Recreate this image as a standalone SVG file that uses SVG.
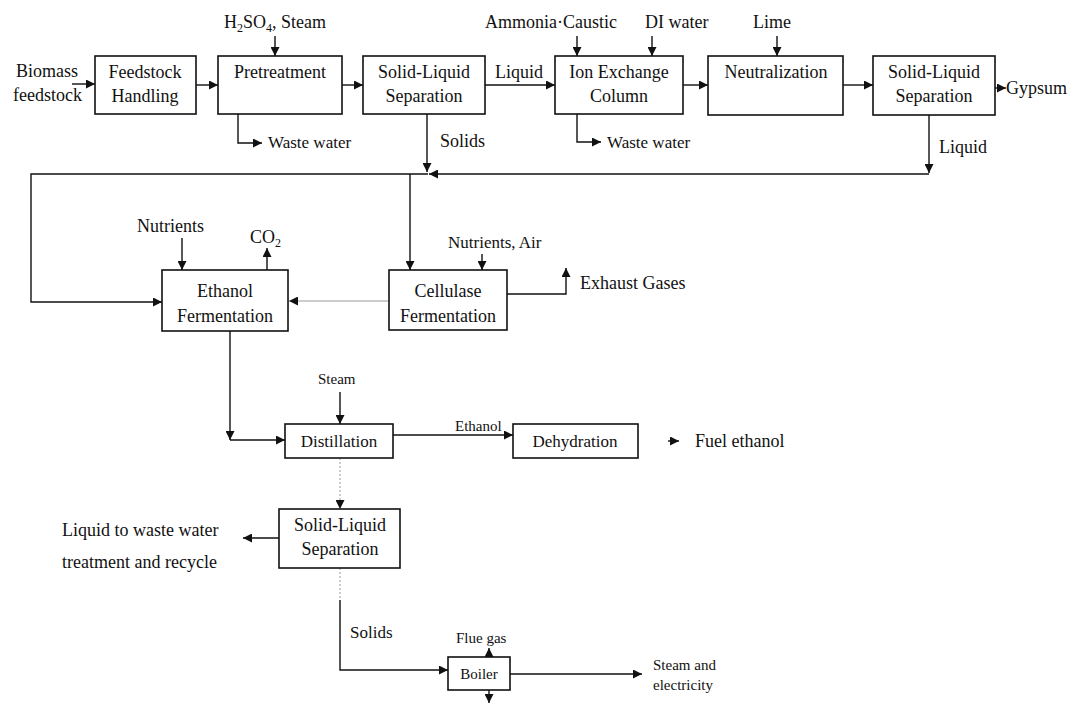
<svg xmlns="http://www.w3.org/2000/svg" width="1079" height="704" viewBox="0 0 1079 704">
<style>
text{font-family:"Liberation Serif","Times New Roman",serif;font-size:18px;fill:#111}
.md{font-size:17px}
.sm{font-size:15px}
.c{text-anchor:middle}
.box{fill:#fff;stroke:#111;stroke-width:1.6}
.ln{fill:none;stroke:#111;stroke-width:1.4}
.fa{fill:none;stroke:#999;stroke-width:1.2}
.dt{fill:none;stroke:#aaa;stroke-width:1.2;stroke-dasharray:2 2}
</style>
<defs>
<marker id="ah" viewBox="0 0 10 10" refX="10" refY="5" markerWidth="11" markerHeight="9" markerUnits="userSpaceOnUse" orient="auto"><path d="M0,0 L10,5 L0,10 z" fill="#111"/></marker>
</defs>
<rect width="1079" height="704" fill="#fff"/>

<g id="connectors">
<path class="ln" d="M72,84 H95" marker-end="url(#ah)"/>
<path class="ln" d="M196,85 H218" marker-end="url(#ah)"/>
<path class="ln" d="M275,36 V56" marker-end="url(#ah)"/>
<path class="ln" d="M342,85 H363" marker-end="url(#ah)"/>
<path class="ln" d="M238,113 V143 H262" marker-end="url(#ah)"/>
<path class="ln" d="M485,85 H555" marker-end="url(#ah)"/>
<path class="ln" d="M577,36 V56" marker-end="url(#ah)"/>
<path class="ln" d="M652,36 V56" marker-end="url(#ah)"/>
<path class="ln" d="M577,113 V142 H601" marker-end="url(#ah)"/>
<path class="ln" d="M683,85 H708" marker-end="url(#ah)"/>
<path class="ln" d="M777,36 V56" marker-end="url(#ah)"/>
<path class="ln" d="M843,85 H873" marker-end="url(#ah)"/>
<path class="ln" d="M995,88 H1006" marker-end="url(#ah)"/>
<path class="ln" d="M929,115 V173" marker-end="url(#ah)"/>
<path class="ln" d="M427,113 V172" marker-end="url(#ah)"/>
<path class="ln" d="M929,174 H429" marker-end="url(#ah)"/>
<path class="ln" d="M428,174 H31 V302 H162" marker-end="url(#ah)"/>
<path class="ln" d="M410,174 V270" marker-end="url(#ah)"/>
<path class="ln" d="M182,238 V270" marker-end="url(#ah)"/>
<path class="ln" d="M267,270 V248" marker-end="url(#ah)"/>
<path class="ln" d="M482,254 V270" marker-end="url(#ah)"/>
<path class="fa" d="M389,301 H289" marker-end="url(#ah)"/>
<path class="ln" d="M507,294 H566 V268" marker-end="url(#ah)"/>
<path class="ln" d="M230,331 V440" marker-end="url(#ah)"/>
<path class="ln" d="M230,440 H285" marker-end="url(#ah)"/>
<path class="ln" d="M340,392 V424" marker-end="url(#ah)"/>
<path class="ln" d="M393,435 H513" marker-end="url(#ah)"/>
<path class="ln" d="M668,441 H679" marker-end="url(#ah)"/>
<path class="dt" d="M340,458 V509" marker-end="url(#ah)"/>
<path class="ln" d="M279,538 H243" marker-end="url(#ah)"/>
<path class="dt" d="M340,568 V600"/>
<path class="ln" d="M340,600 V670 H448" marker-end="url(#ah)"/>
<path class="ln" d="M489,657 V648" marker-end="url(#ah)"/>
<path class="ln" d="M489,690 V703" marker-end="url(#ah)"/>
<path class="ln" d="M510,674 H642" marker-end="url(#ah)"/>
</g>

<g id="labels">
<text x="16" y="77">Biomass</text>
<text x="13" y="101">feedstock</text>
<text x="224" y="28">H<tspan font-size="12" dy="4">2</tspan><tspan dy="-4">SO</tspan><tspan font-size="12" dy="4">4</tspan><tspan dy="-4">, Steam</tspan></text>
<text x="268" y="148" class="md">Waste water</text>
<text x="495" y="78">Liquid</text>
<text x="485" y="28">Ammonia·Caustic</text>
<text x="645" y="28">DI water</text>
<text x="607" y="148" class="md">Waste water</text>
<text x="753" y="28">Lime</text>
<text x="1006" y="94">Gypsum</text>
<text x="440" y="147">Solids</text>
<text x="939" y="153">Liquid</text>
<text x="137" y="232">Nutrients</text>
<text x="250" y="243">CO<tspan font-size="12" dy="4">2</tspan></text>
<text x="448" y="248" class="md">Nutrients, Air</text>
<text x="580" y="289">Exhaust Gases</text>
<text x="318" y="384" class="sm">Steam</text>
<text x="455" y="431" class="sm">Ethanol</text>
<text x="695" y="447">Fuel ethanol</text>
<text x="62" y="536">Liquid to waste water</text>
<text x="62" y="568">treatment and recycle</text>
<text x="350" y="638" class="md">Solids</text>
<text x="456" y="643" class="sm">Flue gas</text>
<text x="653" y="670" class="sm">Steam and</text>
<text x="653" y="690" class="sm">electricity</text>
</g>

<g id="feedstock-handling"><rect class="box" x="95" y="56" width="101" height="58"/><text class="c" x="145" y="78">Feedstock</text><text class="c" x="145" y="102">Handling</text></g>
<g id="pretreatment"><rect class="box" x="218" y="56" width="124" height="58"/><text class="c" x="280" y="78">Pretreatment</text></g>
<g id="sls1"><rect class="box" x="363" y="56" width="122" height="58"/><text class="c" x="424" y="78">Solid-Liquid</text><text class="c" x="424" y="102">Separation</text></g>
<g id="ion-exchange"><rect class="box" x="555" y="56" width="128" height="58"/><text class="c" x="619" y="78">Ion Exchange</text><text class="c" x="619" y="102">Column</text></g>
<g id="neutralization"><rect class="box" x="708" y="56" width="135" height="59"/><text class="c" x="776" y="78">Neutralization</text></g>
<g id="sls2"><rect class="box" x="873" y="56" width="122" height="59"/><text class="c" x="934" y="78">Solid-Liquid</text><text class="c" x="934" y="102">Separation</text></g>
<g id="ethanol-fermentation"><rect class="box" x="162" y="270" width="126" height="61"/><text class="c" x="225" y="297">Ethanol</text><text class="c" x="225" y="322">Fermentation</text></g>
<g id="cellulase-fermentation"><rect class="box" x="389" y="270" width="118" height="60"/><text class="c" x="448" y="297">Cellulase</text><text class="c" x="448" y="322">Fermentation</text></g>
<g id="distillation"><rect class="box" x="285" y="424" width="108" height="34"/><text class="c md" x="339" y="447">Distillation</text></g>
<g id="dehydration"><rect class="box" x="513" y="424" width="125" height="34"/><text class="c md" x="575" y="447">Dehydration</text></g>
<g id="sls3"><rect class="box" x="279" y="509" width="121" height="59"/><text class="c" x="340" y="531">Solid-Liquid</text><text class="c" x="340" y="555">Separation</text></g>
<g id="boiler"><rect class="box" x="448" y="657" width="62" height="33"/><text class="c sm" x="479" y="679">Boiler</text></g>
</svg>
